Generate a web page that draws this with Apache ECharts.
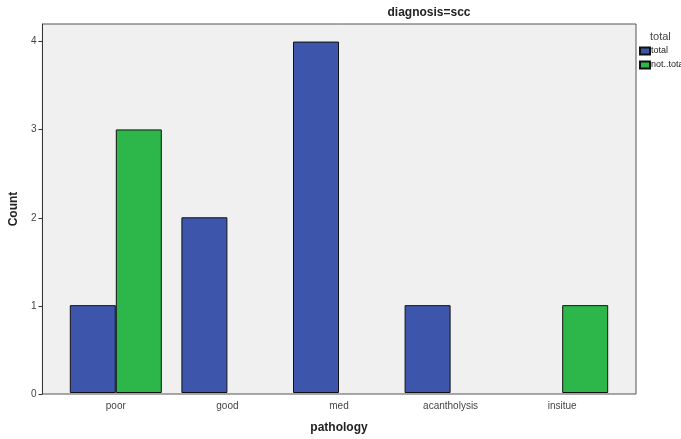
<!DOCTYPE html>
<html><head><meta charset="utf-8">
<script src="https://cdn.jsdelivr.net/npm/echarts@6/dist/echarts.min.js"></script>
<style>html,body{margin:0;padding:0;background:#fff}#c{width:681px;height:439px}</style>
</head><body><div id="c"></div>
<script>
const categories = ['poor', 'good', 'med', 'acantholysis', 'insitue'];
const totalValues = [1, 2, 4, 1, null];
const notTotalValues = [3, null, null, null, 1];
const yTicks = [0, 1, 2, 3, 4];
const seriesNames = ['total', 'not..total'];

const chart = echarts.init(document.getElementById('c'));
const font = 'Liberation Sans, Arial, sans-serif';
chart.setOption({
  animation: false,
  backgroundColor: '#ffffff',
  title: [
    { text: 'diagnosis=scc', left: 429, top: 7, padding: 0, textAlign: 'center',
      textStyle: { fontFamily: font, fontSize: 12, fontWeight: 'bold', color: '#222' } },
    { text: 'total', left: 650, top: 31, padding: 0,
      textStyle: { fontFamily: font, fontSize: 11, fontWeight: 'normal', color: '#444' } }
  ],
  legend: {
    orient: 'vertical', left: 639, top: 46, itemWidth: 10, itemHeight: 7, itemGap: 4,
    padding: 0, icon: 'rect', data: seriesNames,
    textStyle: { fontFamily: font, fontSize: 9, lineHeight: 10, color: '#222', padding: [0, 0, 0, -4] }
  },
  grid: [
    { left: 40, right: 45, top: 24, bottom: 45, show: true, backgroundColor: '#f0f0f0',
      borderColor: '#555', borderWidth: 1 },
    { left: 60, right: 63, top: 24, bottom: 45 }
  ],
  xAxis: [
    { type: 'value', gridIndex: 0, show: false, min: 0, max: 1 },
    { type: 'category', gridIndex: 1, data: categories,
      axisLine: { show: false },
      axisTick: { alignWithLabel: true, length: 5, lineStyle: { color: '#333' } },
      axisLabel: { fontFamily: font, fontSize: 10, color: '#444', margin: 8 },
      name: 'pathology', nameLocation: 'middle', nameGap: 29,
      nameTextStyle: { fontFamily: font, fontSize: 12, fontWeight: 'bold', color: '#222' } }
  ],
  yAxis: [
    { type: 'value', gridIndex: 0, min: 0, max: 4.2, interval: 1,
      splitLine: { show: false },
      axisLine: { show: true, lineStyle: { color: '#333' } },
      axisTick: { show: true, length: 4, customValues: yTicks, lineStyle: { color: '#333' } },
      axisLabel: { fontFamily: font, fontSize: 10, color: '#444', margin: 6, customValues: yTicks },
      name: 'Count', nameLocation: 'middle', nameGap: 22,
      nameTextStyle: { fontFamily: font, fontSize: 12, fontWeight: 'bold', color: '#222' } },
    { type: 'value', gridIndex: 1, min: 0, max: 4.2, show: false }
  ],
  series: [
    { name: seriesNames[0], type: 'bar', xAxisIndex: 1, yAxisIndex: 1, data: totalValues,
      barWidth: 46, barGap: '0%',
      itemStyle: { color: '#3d56ab', borderColor: '#111', borderWidth: 1 } },
    { name: seriesNames[1], type: 'bar', xAxisIndex: 1, yAxisIndex: 1, data: notTotalValues,
      barWidth: 46, barGap: '0%',
      itemStyle: { color: '#2db74a', borderColor: '#111', borderWidth: 1 } }
  ]
});
</script></body></html>
